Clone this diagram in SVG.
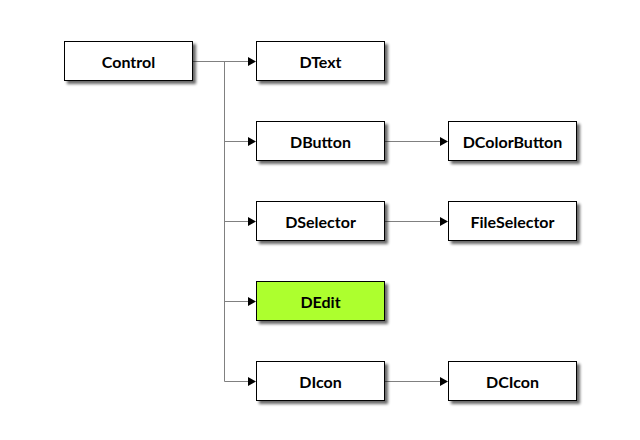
<svg xmlns="http://www.w3.org/2000/svg" width="640" height="440" viewBox="0 0 640 440">
<style>
.box{fill:#fff;stroke:#000;stroke-width:1;filter:url(#sh)}
.hl{fill:#adff2f}
.lbl{font-family:Lato,"Liberation Sans",sans-serif;font-weight:bold;font-size:16px;fill:#000;text-anchor:middle;dominant-baseline:central}
.edge{fill:none;stroke:#808080;stroke-width:1}
.arr{fill:#000;stroke:none}
</style>
<defs>
<filter id="sh" x="-10%" y="-20%" width="130%" height="160%">
<feGaussianBlur in="SourceAlpha" stdDeviation="1.5"/>
<feOffset dx="3" dy="3" result="b"/>
<feComponentTransfer><feFuncA type="linear" slope="0.6"/></feComponentTransfer>
<feMerge><feMergeNode/><feMergeNode in="SourceGraphic"/></feMerge>
</filter>
</defs>
<rect width="640" height="440" fill="#fff"/>
<g id="connectors">
<path class="edge" d="M192.5,61.5H248M224.5,61.5V381.5M224.5,141.5H248M224.5,221.5H248M224.5,301.5H248M224.5,381.5H248M384.5,141.5H440M384.5,221.5H440M384.5,381.5H440"/>
<path class="arr" d="M248,57L256,61.5L248,66Z M248,137L256,141.5L248,146Z M248,217L256,221.5L248,226Z M248,297L256,301.5L248,306Z M248,377L256,381.5L248,386Z M440,137L448,141.5L440,146Z M440,217L448,221.5L440,226Z M440,377L448,381.5L440,386Z"/>
</g>
<g id="Control"><rect class="box" x="64.5" y="41.5" width="128" height="39"/><text class="lbl" x="128.5" y="61">Control</text></g>
<g id="DText"><rect class="box" x="256.5" y="41.5" width="128" height="39"/><text class="lbl" x="320.5" y="61">DText</text></g>
<g id="DButton"><rect class="box" x="256.5" y="121.5" width="128" height="39"/><text class="lbl" x="320.5" y="141">DButton</text></g>
<g id="DColorButton"><rect class="box" x="448.5" y="121.5" width="128" height="39"/><text class="lbl" x="512.5" y="141">DColorButton</text></g>
<g id="DSelector"><rect class="box" x="256.5" y="201.5" width="128" height="39"/><text class="lbl" x="320.5" y="221">DSelector</text></g>
<g id="FileSelector"><rect class="box" x="448.5" y="201.5" width="128" height="39"/><text class="lbl" x="512.5" y="221">FileSelector</text></g>
<g id="DEdit"><rect class="box hl" x="256.5" y="281.5" width="128" height="39"/><text class="lbl" x="320.5" y="301">DEdit</text></g>
<g id="DIcon"><rect class="box" x="256.5" y="361.5" width="128" height="39"/><text class="lbl" x="320.5" y="381">DIcon</text></g>
<g id="DCIcon"><rect class="box" x="448.5" y="361.5" width="128" height="39"/><text class="lbl" x="512.5" y="381">DCIcon</text></g>
</svg>
